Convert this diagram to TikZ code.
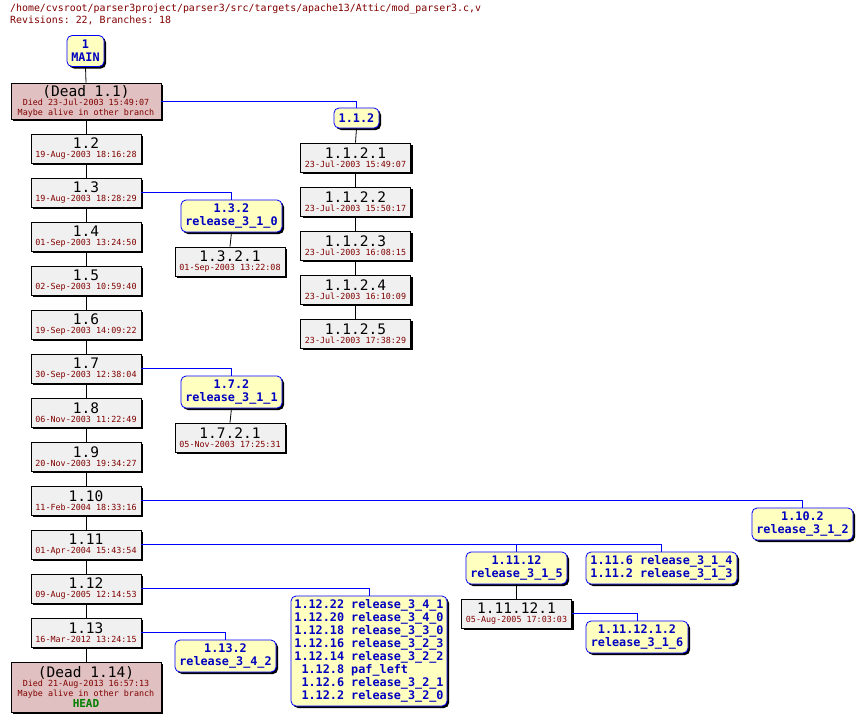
\documentclass[tikz,border=0pt]{standalone}
\usepackage{fontspec}
\setmonofont{DejaVu Sans Mono}
\usetikzlibrary{shadows}
\definecolor{datec}{HTML}{800000}
\definecolor{tagc}{HTML}{0000C0}
\definecolor{revfill}{HTML}{F0F0F0}
\definecolor{tagfill}{HTML}{FFFFC0}
\definecolor{deadfill}{HTML}{E0C0C0}
\newcommand{\rv}[2]{{\fontsize{14.5}{15}\selectfont #1}\\[-3pt]{\fontsize{8.4}{9}\selectfont\color{datec}#2}}
\begin{document}
\begin{tikzpicture}[x=1pt,y=-1pt,font=\ttfamily,
  shad/.style={drop shadow={shadow xshift=2pt,shadow yshift=-2pt,opacity=1,fill=black}},
  rev/.style={draw=black,fill=revfill,shad,minimum width=110pt,minimum height=29pt,inner sep=0pt,align=center,line width=0.8pt},
  dead/.style={draw=black,fill=deadfill,shad,minimum width=150pt,inner sep=0pt,align=center,line width=0.8pt},
  tag/.style={draw=blue,fill=tagfill,shad,rounded corners=5pt,inner sep=0pt,align=center,text=tagc,font=\ttfamily\bfseries\fontsize{11.8}{13}\selectfont,line width=0.8pt},
  tr/.style={draw=black,line width=0.8pt},
  br/.style={draw=blue,line width=0.8pt}]
\useasboundingbox (0,0) rectangle (862,723);
\node[anchor=north west,text=datec,font=\ttfamily\fontsize{9.9}{11.5}\selectfont,align=left,inner sep=0pt] (hdr) at (10,4) {/home/cvsroot/parser3project/parser3/src/targets/apache13/Attic/mod\_parser3.c,v\\Revisions: 22, Branches: 18};
% main trunk
\node[tag,minimum width=37pt,minimum height=31pt] (main) at (85.5,51) {1\\MAIN};
\node[dead,minimum height=36pt] (d11) at (86,101) {{\fontsize{14.5}{15}\selectfont (Dead 1.1)}\\[-3pt]{\fontsize{8.4}{9}\selectfont\color{datec}Died 23-Jul-2003 15:49:07}\\[-2pt]{\fontsize{8.4}{9}\selectfont\color{datec}Maybe alive in other branch}};
\node[rev] (r2) at (86,148.5) {\rv{1.2}{19-Aug-2003 18:16:28}};
\node[rev] (r3) at (86,192.5) {\rv{1.3}{19-Aug-2003 18:28:29}};
\node[rev] (r4) at (86,236.5) {\rv{1.4}{01-Sep-2003 13:24:50}};
\node[rev] (r5) at (86,280.5) {\rv{1.5}{02-Sep-2003 10:59:40}};
\node[rev] (r6) at (86,324.5) {\rv{1.6}{19-Sep-2003 14:09:22}};
\node[rev] (r7) at (86,368.5) {\rv{1.7}{30-Sep-2003 12:38:04}};
\node[rev] (r8) at (86,412.5) {\rv{1.8}{06-Nov-2003 11:22:49}};
\node[rev] (r9) at (86,456.5) {\rv{1.9}{20-Nov-2003 19:34:27}};
\node[rev] (r10) at (86,500.5) {\rv{1.10}{11-Feb-2004 18:33:16}};
\node[rev] (r11) at (86,544.5) {\rv{1.11}{01-Apr-2004 15:43:54}};
\node[rev] (r12) at (86,588.5) {\rv{1.12}{09-Aug-2005 12:14:53}};
\node[rev] (r13) at (86,632.5) {\rv{1.13}{16-Mar-2012 13:24:15}};
\node[dead,minimum height=50pt] (d14) at (86,687) {{\fontsize{14.5}{15}\selectfont (Dead 1.14)}\\[-3pt]{\fontsize{8.4}{9}\selectfont\color{datec}Died 21-Aug-2013 16:57:13}\\[-2pt]{\fontsize{8.4}{9}\selectfont\color{datec}Maybe alive in other branch}\\[-1pt]{\bfseries\fontsize{11}{12}\selectfont\color{green!50!black}HEAD}};
% branch 1.1.2
\node[tag,minimum width=45pt,minimum height=20pt] (t112) at (356.5,118) {1.1.2};
\node[rev] (r1121) at (355.5,157.5) {\rv{1.1.2.1}{23-Jul-2003 15:49:07}};
\node[rev] (r1122) at (355.5,201.5) {\rv{1.1.2.2}{23-Jul-2003 15:50:17}};
\node[rev] (r1123) at (355.5,245.5) {\rv{1.1.2.3}{23-Jul-2003 16:08:15}};
\node[rev] (r1124) at (355.5,289.5) {\rv{1.1.2.4}{23-Jul-2003 16:10:09}};
\node[rev] (r1125) at (355.5,333.5) {\rv{1.1.2.5}{23-Jul-2003 17:38:29}};
% branch 1.3.2
\node[tag,minimum width=101pt,minimum height=32pt] (t132) at (231.5,216) {1.3.2\\release\_3\_1\_0};
\node[rev] (r1321) at (230,261.5) {\rv{1.3.2.1}{01-Sep-2003 13:22:08}};
% branch 1.7.2
\node[tag,minimum width=101pt,minimum height=32pt] (t172) at (231.5,392) {1.7.2\\release\_3\_1\_1};
\node[rev] (r1721) at (230,437.5) {\rv{1.7.2.1}{05-Nov-2003 17:25:31}};
% 1.10.2
\node[tag,minimum width=101pt,minimum height=32pt] (t1102) at (802.5,524) {1.10.2\\release\_3\_1\_2};
% 1.11 branches
\node[tag,minimum width=101pt,minimum height=32pt] (t11112) at (516.5,568) {1.11.12\\release\_3\_1\_5};
\node[tag,minimum width=151pt,minimum height=32pt] (t1116) at (661.5,568) {\begin{tabular}{@{}r@{ }l@{}}1.11.6&release\_3\_1\_4\\1.11.2&release\_3\_1\_3\end{tabular}};
\node[rev] (r111121) at (516.5,613.5) {\rv{1.11.12.1}{05-Aug-2005 17:03:03}};
\node[tag,minimum width=102pt,minimum height=32pt] (t1111212) at (637,637) {1.11.12.1.2\\release\_3\_1\_6};
% 1.12 tags
\node[tag,minimum width=156pt,minimum height=110pt] (t112s) at (369,651) {\begin{tabular}{@{}r@{ }l@{}}1.12.22&release\_3\_4\_1\\1.12.20&release\_3\_4\_0\\1.12.18&release\_3\_3\_0\\1.12.16&release\_3\_2\_3\\1.12.14&release\_3\_2\_2\\1.12.8&paf\_left\\1.12.6&release\_3\_2\_1\\1.12.2&release\_3\_2\_0\end{tabular}};
\node[tag,minimum width=101pt,minimum height=32pt] (t1132) at (225.5,656) {1.13.2\\release\_3\_4\_2};
% trunk edges
\foreach \a/\b in {main/d11,d11/r2,r2/r3,r3/r4,r4/r5,r5/r6,r6/r7,r7/r8,r8/r9,r9/r10,r10/r11,r11/r12,r12/r13,r13/d14,
  t112/r1121,r1121/r1122,r1122/r1123,r1123/r1124,r1124/r1125,t132/r1321,t172/r1721,t11112/r111121}
  \draw[tr] (\a.south) -- (\b.north);
% branch edges
\draw[br] (d11.east) -| (t112.north);
\draw[br] (r3.east) -| (t132.north);
\draw[br] (r7.east) -| (t172.north);
\draw[br] (r10.east) -| (t1102.north);
\draw[br] (r11.east) -| (t1116.north);
\draw[br] (t11112.north) |- (r11.east);
\draw[br] (r12.east) -| (t112s.north);
\draw[br] (r13.east) -| (t1132.north);
\draw[br] (r111121.east) -| (t1111212.north);
\end{tikzpicture}
\end{document}
